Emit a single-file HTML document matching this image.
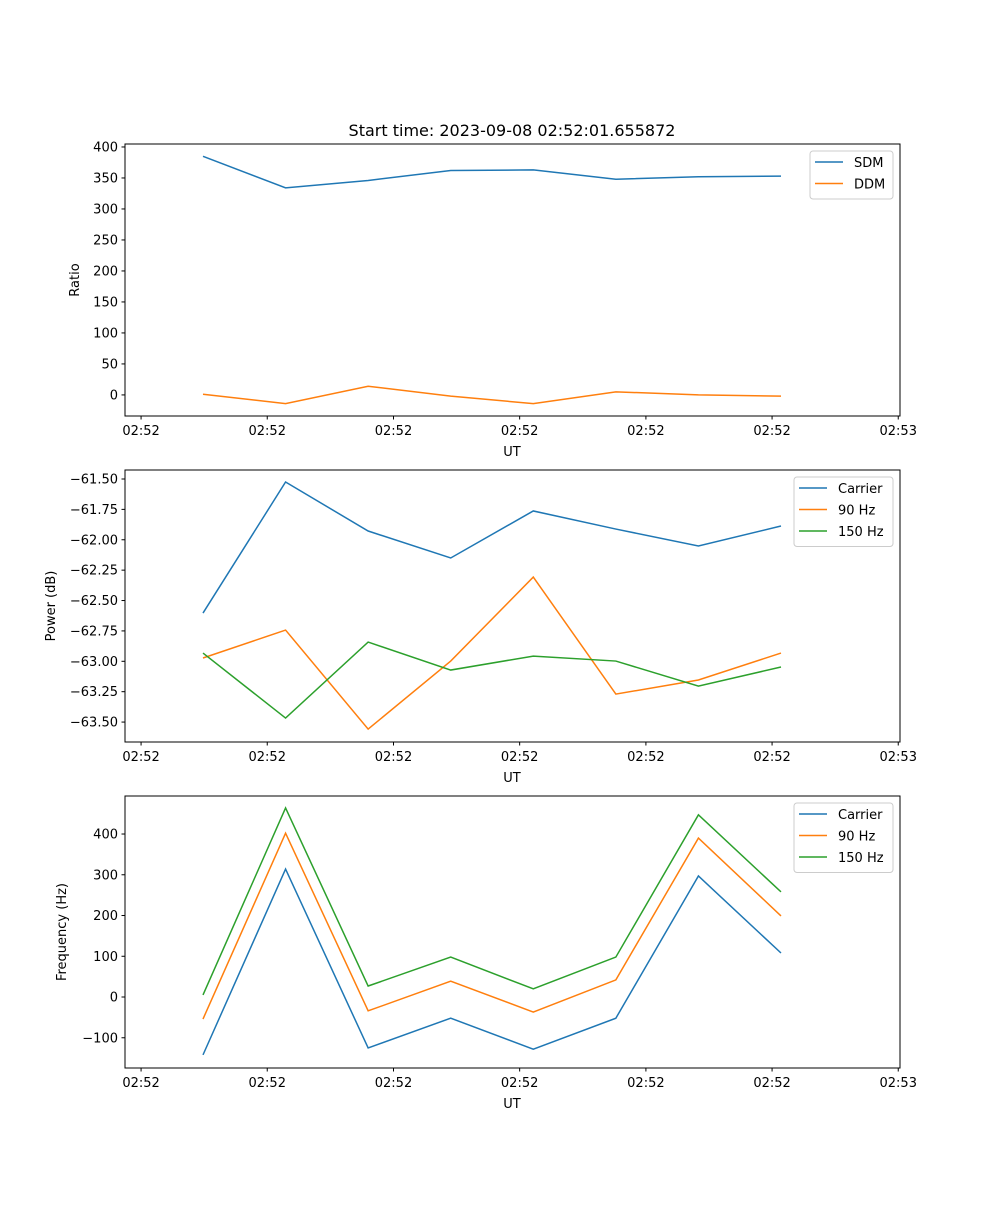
<!DOCTYPE html>
<html><head><meta charset="utf-8"><style>
body{margin:0;background:#fff;width:1000px;height:1200px;overflow:hidden}
svg text{font-family:"DejaVu Sans","Liberation Sans",sans-serif;fill:#000}
</style></head><body>
<svg id="fig" width="1000" height="1200" xmlns="http://www.w3.org/2000/svg">
<text x="512" y="136" font-size="16" text-anchor="middle">Start time: 2023-09-08 02:52:01.655872</text>
</svg>
<script>
const xIdx=[0,1,2,3,4,5,6,7];
const xTickVals=[-0.75,0.778,2.307,3.835,5.364,6.892,8.42];
const xTickLabels=["02:52","02:52","02:52","02:52","02:52","02:52","02:53"];
const sdm=[385,334,346,362,363,348,352,353];
const ddm=[1,-14,14,-2,-14,5,0,-2];
const pCarrier=[-62.603,-61.525,-61.928,-62.150,-61.763,-61.912,-62.051,-61.887];
const p90=[-62.973,-62.743,-63.558,-62.998,-62.307,-63.270,-63.154,-62.932];
const p150=[-62.932,-63.467,-62.842,-63.072,-62.957,-62.998,-63.204,-63.047];
const fCarrier=[-142,314,-125,-52,-128,-52,297,108];
const f90=[-54,402,-34,39,-37,42,390,199];
const f150=[5,464,27,98,20,98,447,258];
const ratioTicks=[0,50,100,150,200,250,300,350,400];
const powerTicks=[-61.5,-61.75,-62,-62.25,-62.5,-62.75,-63,-63.25,-63.5];
const freqTicks=[-100,0,100,200,300,400];

const svg=document.getElementById('fig');
const NS='http://www.w3.org/2000/svg';
function mk(tag,attrs,parent){const e=document.createElementNS(NS,tag);for(const k in attrs)e.setAttribute(k,attrs[k]);(parent||svg).appendChild(e);return e;}
const L=125,R=900;
const xs=v=>203+v*82.57;
const C1='#1f77b4',C2='#ff7f0e',C3='#2ca02c';

function panel(name,top,bot,ymin,ymax,yTicks,fmt,ylabel,ylx,series,legend){
  const g=mk('g',{});
  
  
  const ys=v=>bot-(v-ymin)/(ymax-ymin)*(bot-top);
  series.forEach(s=>{
    const p=mk('polyline',{points:s.vals.map((v,i)=>xs(xIdx[i])+','+ys(v)).join(' '),fill:'none',stroke:s.color,'stroke-width':1.5},g);
    
    
  });
  const fr=mk('rect',{x:L,y:top,width:R-L,height:bot-top,fill:'none',stroke:'#000','stroke-width':1},g);
  
  
  yTicks.forEach(t=>{
    const y=ys(t);
    mk('line',{x1:L-3.5,x2:L,y1:y,y2:y,stroke:'#000'},g);
    const tx=mk('text',{x:L-7,y:y+4.5,'font-size':13,'text-anchor':'end'},g);
    tx.textContent=fmt(t).replace('-','\u2212');
    
    
  });
  xTickVals.forEach((t,i)=>{
    const x=xs(t);
    mk('line',{x1:x,x2:x,y1:bot,y2:bot+3.5,stroke:'#000'},g);
    const tx=mk('text',{x:x,y:bot+19,'font-size':13,'text-anchor':'middle'},g);
    tx.textContent=xTickLabels[i];
    
    
  });
  const xl=mk('text',{x:512,y:bot+40,'font-size':13,'text-anchor':'middle'},g);
  xl.textContent='UT';
  
  
  const yl=mk('text',{x:ylx,y:(top+bot)/2,'font-size':13,'text-anchor':'middle',transform:`rotate(-90 ${ylx} ${(top+bot)/2})`},g);
  yl.textContent=ylabel;
  
  
  const lg=mk('g',{},g);
  
  
  mk('rect',{x:legend.x,y:top+7,width:R-7-legend.x,height:series.length*21.5+5,rx:3,fill:'#fff','fill-opacity':0.8,stroke:'#ccc'},lg);
  series.forEach((s,i)=>{
    const y=top+18+i*21.5;
    mk('line',{x1:legend.x+5,x2:legend.x+33,y1:y,y2:y,stroke:s.color,'stroke-width':1.5},lg);
    const tx=mk('text',{x:legend.x+44,y:y+5,'font-size':13},lg);
    tx.textContent=s.label;
    
    
  });
}
panel('ratio',144,416,-34,404.8,ratioTicks,v=>String(v),'Ratio',79,
 [{key:'sdm',label:'SDM',vals:sdm,color:C1},{key:'ddm',label:'DDM',vals:ddm,color:C2}],{x:810});
panel('power',470,742,-63.664,-61.426,powerTicks,v=>v.toFixed(2),'Power (dB)',55,
 [{key:'carrier',label:'Carrier',vals:pCarrier,color:C1},{key:'90hz',label:'90 Hz',vals:p90,color:C2},{key:'150hz',label:'150 Hz',vals:p150,color:C3}],{x:794});
panel('frequency',796,1068,-174.2,493.3,freqTicks,v=>String(v),'Frequency (Hz)',66,
 [{key:'carrier',label:'Carrier',vals:fCarrier,color:C1},{key:'90hz',label:'90 Hz',vals:f90,color:C2},{key:'150hz',label:'150 Hz',vals:f150,color:C3}],{x:794});
</script>
</body></html>
